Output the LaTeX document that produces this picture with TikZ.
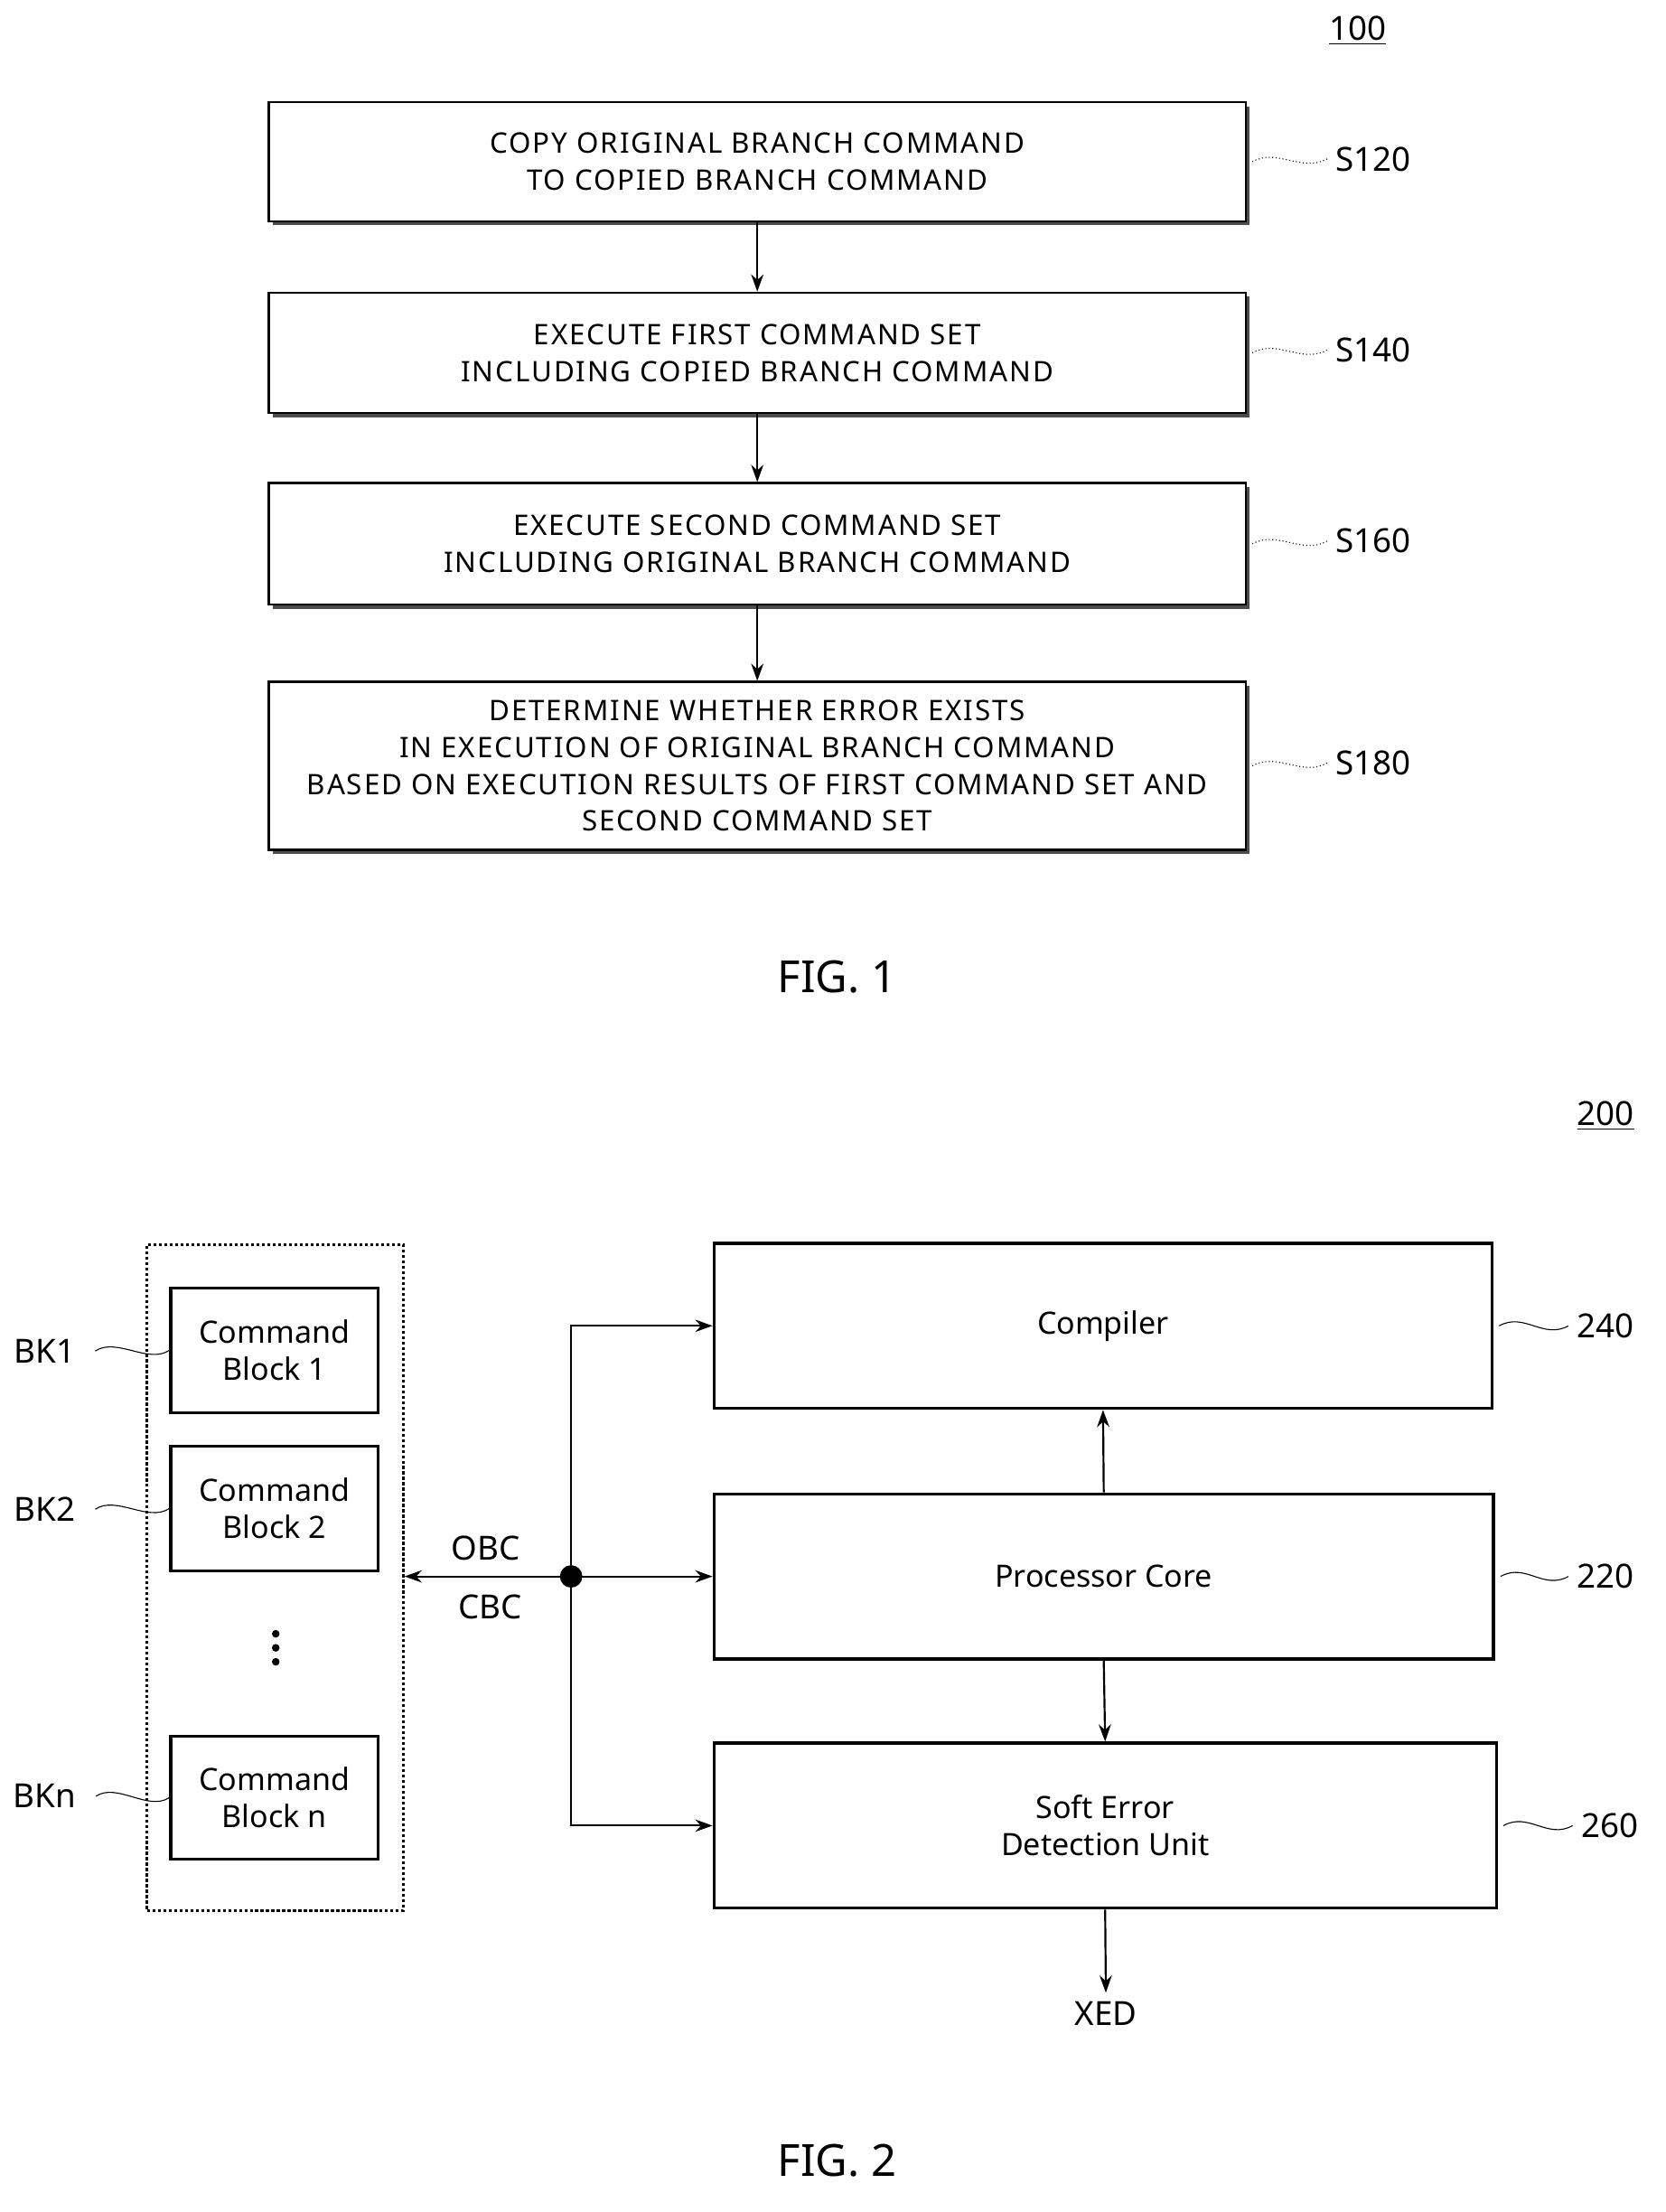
\documentclass[tikz,border=0pt]{standalone}
\usepackage{fontspec}
\setmainfont{Noto Sans}
\usetikzlibrary{arrows.meta,shadows}
\begin{document}
\begin{tikzpicture}[x=0.02cm,y=-0.02cm,
  stepbox/.style={draw,thick,fill=white,align=center,inner sep=2pt,font=\fontsize{11.5}{15}\selectfont\addfontfeatures{LetterSpace=6},
     drop shadow={shadow xshift=0.06cm,shadow yshift=-0.06cm,opacity=1,fill=black!70}},
  blk/.style={draw,very thick,align=center,font=\fontsize{12.5}{15}\selectfont},
  lbl/.style={font=\fontsize{13.5}{16}\selectfont},
  arr/.style={-{Stealth[length=7pt,width=5pt]},thick},
  lead/.style={densely dotted,thin},
  lead2/.style={thin}]
\useasboundingbox (0,0) rectangle (1190,1580);
% FIG 1
\node[lbl] (n100) at (970,22) {\underline{100}};
\node[stepbox,minimum width=13.96cm,minimum height=1.70cm] (s120) at (541,115.5) {COPY ORIGINAL BRANCH COMMAND\\TO COPIED BRANCH COMMAND};
\node[stepbox,minimum width=13.96cm,minimum height=1.72cm] (s140) at (541,252) {EXECUTE FIRST COMMAND SET\\INCLUDING COPIED BRANCH COMMAND};
\node[stepbox,minimum width=13.96cm,minimum height=1.74cm] (s160) at (541,388.5) {EXECUTE SECOND COMMAND SET\\INCLUDING ORIGINAL BRANCH COMMAND};
\node[stepbox,minimum width=13.96cm,minimum height=2.40cm] (s180) at (541,547) {DETERMINE WHETHER ERROR EXISTS\\IN EXECUTION OF ORIGINAL BRANCH COMMAND\\BASED ON EXECUTION RESULTS OF FIRST COMMAND SET AND\\SECOND COMMAND SET};
\draw[arr] (s120) -- (s140);
\draw[arr] (s140) -- (s160);
\draw[arr] (s160) -- (s180);
\foreach \n/\y in {120/113.5,140/250,160/386.5,180/545}{
  \node[lbl,anchor=west] (l\n) at (948,\y) {S\n};
  \draw[lead] (s\n.east) ++(4,0) .. controls +(18,-10) and +(-18,10) .. (l\n.west);
}
\node[font=\fontsize{18}{20}\selectfont] (f1) at (598,698) {FIG. 1};
% FIG 2
\node[lbl] (n200) at (1147,797) {\underline{200}};
\node[draw,very thick,densely dotted,minimum width=3.66cm,minimum height=9.52cm] (grp) at (196.5,1127) {};
\node[blk,minimum width=2.96cm,minimum height=1.78cm] (b1) at (196,964.5) {Command\\Block 1};
\node[blk,minimum width=2.96cm,minimum height=1.78cm] (b2) at (196,1077.5) {Command\\Block 2};
\node[blk,minimum width=2.96cm,minimum height=1.76cm] (bn) at (196,1284) {Command\\Block n};
\coordinate (dots) at (197,1177);
\foreach \d in {-10,0,10} \fill ([yshift=-\d*0.02cm]dots) circle (0.055cm);
\foreach \b/\t/\y in {b1/BK1/965,b2/BK2/1078,bn/BKn/1283}{
  \node[lbl] (k\b) at (32,\y) {\t};
  \draw[lead2] (k\b.east) ++(8,0) .. controls +(15,-10) and +(-15,10) .. (\b.west);
}
\node[blk,minimum width=11.12cm,minimum height=2.36cm] (comp) at (788,947) {Compiler};
\node[blk,minimum width=11.14cm,minimum height=2.36cm] (proc) at (788.5,1126) {Processor Core};
\node[blk,minimum width=11.18cm,minimum height=2.36cm] (sed) at (789.5,1304) {Soft Error\\Detection Unit};
\foreach \b/\t/\x/\y in {comp/240/1147/947,proc/220/1147/1126,sed/260/1150/1304}{
  \node[lbl] (k\t) at (\x,\y) {\t};
  \draw[lead2] (\b.east) ++(4,0) .. controls +(18,-10) and +(-18,10) .. (k\t.west);
}
\coordinate (j) at (408,1126);
\fill (j) circle (0.16cm);
\draw[arr] (j) -- (grp.east |- j);
\draw[arr] (j) -- (proc.west);
\draw[arr] (j) |- (comp.west);
\draw[arr] (j) |- (sed.west);
\node[lbl] (obc) at (347,1106) {OBC};
\node[lbl] (cbc) at (350,1148) {CBC};
\draw[arr] (proc.north) -- (comp.south);
\draw[arr] (proc.south) -- (sed.north);
\node[lbl] (xed) at (790,1438) {XED};
\draw[arr] (sed.south) -- (xed.north);
\node[font=\fontsize{18}{20}\selectfont] (f2) at (598,1543) {FIG. 2};
\end{tikzpicture}
\end{document}
